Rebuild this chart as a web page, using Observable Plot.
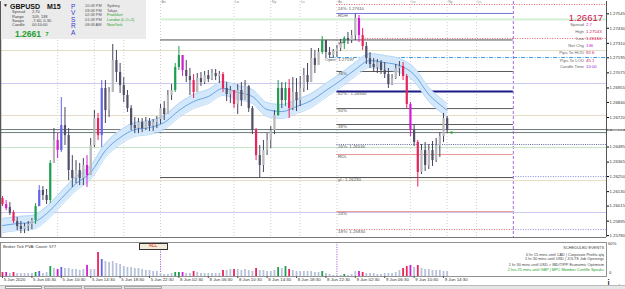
<!DOCTYPE html>
<html><head><meta charset="utf-8">
<script src="https://cdn.jsdelivr.net/npm/d3@7"></script>
<script src="https://cdn.jsdelivr.net/npm/@observablehq/plot@0.6"></script>
<style>
body{margin:0;background:#fff;}
#wrap{position:relative;width:625px;height:289px;overflow:hidden;font-family:"Liberation Sans",Arial,sans-serif;}
#main svg,#vol svg{display:block;font-family:"Liberation Sans",Arial,sans-serif;}
.t{position:absolute;white-space:nowrap;line-height:1;}
</style></head><body><div id="wrap"><div id="main"></div><div id="vol"></div></div>
<script>
const candleOpen = [
1.26075,1.26027,1.26003,1.25964,1.25892,1.25852,1.25828,1.25852,1.25868,1.25900,
1.26011,1.26139,1.26099,1.26059,1.26354,1.26537,1.26457,1.26656,1.26576,1.26298,
1.26234,1.26298,1.26234,1.26338,1.26258,1.26497,1.26712,1.26576,1.26951,1.26775,
1.26919,1.27173,1.27078,1.26974,1.26895,1.26791,1.26656,1.26632,1.26680,1.26632,
1.26688,1.26648,1.26680,1.26704,1.26791,1.26744,1.26895,1.26935,1.27118,1.27213,
1.27094,1.27046,1.27014,1.26919,1.27030,1.26998,1.27054,1.27022,1.27070,1.27046,
1.27062,1.26951,1.26903,1.26935,1.26823,1.26935,1.26855,1.26966,1.26791,1.26616,
1.26417,1.26338,1.26457,1.26537,1.26616,1.26736,1.26951,1.26855,1.26951,1.26791,
1.26919,1.26855,1.26951,1.27054,1.26998,1.27189,1.27134,1.27237,1.27333,1.27237,
1.27213,1.27245,1.27269,1.27309,1.27349,1.27333,1.27372,1.27508,1.27372,1.27285,
1.27189,1.27142,1.27118,1.27157,1.27094,1.27062,1.26982,1.27030,1.27110,1.27126,
1.27046,1.26823,1.26616,1.26521,1.26282,1.26457,1.26338,1.26457,1.26377,1.26497,
1.26568,1.26712];
const candleHigh = [
1.26091,1.26059,1.26043,1.25979,1.25924,1.25892,1.25876,1.25892,1.25916,1.26035,
1.26178,1.26170,1.26147,1.26377,1.26632,1.26592,1.26879,1.26799,1.26632,1.26417,
1.26377,1.26354,1.26393,1.26417,1.26553,1.26775,1.26752,1.27014,1.27014,1.26958,
1.27301,1.27253,1.27150,1.27038,1.26935,1.26815,1.26720,1.26712,1.26712,1.26720,
1.26712,1.26704,1.26728,1.26823,1.26847,1.26935,1.26982,1.27150,1.27285,1.27213,
1.27173,1.27110,1.27062,1.27070,1.27078,1.27086,1.27094,1.27102,1.27102,1.27086,
1.27078,1.26998,1.26966,1.26935,1.26982,1.26998,1.27014,1.26974,1.26807,1.26632,
1.26497,1.26537,1.26592,1.26648,1.26775,1.27014,1.26998,1.26998,1.27022,1.27038,
1.27030,1.27046,1.27110,1.27150,1.27269,1.27253,1.27269,1.27364,1.27309,1.27277,
1.27261,1.27293,1.27341,1.27364,1.27396,1.27412,1.27543,1.27532,1.27428,1.27317,
1.27237,1.27189,1.27181,1.27173,1.27157,1.27110,1.27062,1.27142,1.27165,1.27157,
1.27062,1.26839,1.26664,1.26537,1.26505,1.26521,1.26505,1.26529,1.26553,1.26600,
1.26752,1.26728];
const candleLow = [
1.26011,1.25979,1.25940,1.25876,1.25820,1.25796,1.25796,1.25812,1.25828,1.25868,
1.26011,1.26059,1.26027,1.26035,1.26354,1.26393,1.26441,1.26497,1.26218,1.26163,
1.26194,1.26178,1.26178,1.26163,1.26258,1.26481,1.26537,1.26481,1.26672,1.26720,
1.26919,1.26998,1.26911,1.26839,1.26760,1.26616,1.26592,1.26592,1.26600,1.26616,
1.26608,1.26608,1.26632,1.26664,1.26696,1.26744,1.26855,1.26919,1.27094,1.27046,
1.26998,1.26895,1.26871,1.26919,1.26966,1.26982,1.26998,1.27014,1.27014,1.26990,
1.26919,1.26847,1.26831,1.26791,1.26744,1.26807,1.26871,1.26760,1.26584,1.26377,
1.26242,1.26282,1.26417,1.26473,1.26584,1.26728,1.26791,1.26807,1.26712,1.26775,
1.26767,1.26807,1.26919,1.26935,1.26998,1.27070,1.27142,1.27221,1.27189,1.27189,
1.27189,1.27197,1.27245,1.27261,1.27301,1.27309,1.27333,1.27317,1.27253,1.27142,
1.27110,1.27078,1.27070,1.27062,1.27030,1.26951,1.26974,1.27022,1.27046,1.27014,
1.26791,1.26568,1.26489,1.26166,1.26266,1.26290,1.26306,1.26330,1.26362,1.26401,
1.26521,1.26592];
const candleClose = [
1.26027,1.25995,1.25956,1.25892,1.25852,1.25828,1.25852,1.25868,1.25900,1.26011,
1.26139,1.26099,1.26059,1.26354,1.26537,1.26457,1.26656,1.26576,1.26298,1.26234,
1.26298,1.26234,1.26338,1.26258,1.26497,1.26712,1.26576,1.26951,1.26775,1.26919,
1.27173,1.27078,1.26974,1.26895,1.26791,1.26656,1.26632,1.26680,1.26632,1.26688,
1.26648,1.26680,1.26704,1.26791,1.26744,1.26895,1.26935,1.27118,1.27213,1.27094,
1.27046,1.27014,1.26919,1.27030,1.26998,1.27054,1.27022,1.27070,1.27046,1.27062,
1.26951,1.26903,1.26935,1.26823,1.26935,1.26855,1.26966,1.26791,1.26616,1.26417,
1.26338,1.26457,1.26537,1.26616,1.26736,1.26951,1.26855,1.26951,1.26791,1.26919,
1.26855,1.26951,1.27054,1.26998,1.27189,1.27134,1.27237,1.27333,1.27237,1.27213,
1.27245,1.27269,1.27309,1.27349,1.27333,1.27372,1.27508,1.27372,1.27285,1.27189,
1.27142,1.27118,1.27157,1.27094,1.27062,1.26982,1.27030,1.27110,1.27126,1.27046,
1.26823,1.26616,1.26521,1.26282,1.26457,1.26338,1.26457,1.26377,1.26497,1.26568,
1.26712,1.26617];
// PVSRA class: n normal, g climax bull, r climax bear, b rising bull, m rising bear
const candleType = ("rmnrnnnnng"+"bnngnmbnnn"+"nnnmnnrbnn"+"nnnnnnnnnn"+"nnnnnnnggm"+
  "nnrnnnnnnn"+"rnnrnnnnnr"+"nnnnngngrn"+"nnnnnnngnn"+"nnngnnnmrn"+"nnnnnnnnnr"+
  "rmnrnnnnnn"+"nn").split("");
const tickVolume = [
100,100,75,100,75,75,75,75,75,100, 125,75,100,250,200,175,225,200,200,175,
175,150,175,275,175,175,600,425,375,350, 375,325,300,250,225,225,200,200,175,150,
150,125,125,75,50,50,75,100,100,100, 75,75,125,100,75,75,75,75,75,75,
150,150,175,175,175,150,175,150,125,200, 150,150,125,125,150,225,200,250,175,150,
125,125,125,125,125,100,100,125,75,50, 25,25,25,50,25,50,125,125,100,75,
75,75,50,50,75,75,75,100,150,200, 250,275,225,275,200,175,175,150,150,150,
125,125];
// moving-average channel centre (M15 index, price)
const maIndex = [0,8,16,24,32,40,48,56,64,72,80,88,96,104,112,120,128,136,144,152,160,168,176,184,192,200,208,216,224,232,240,242];
const maValue = [1.25860,1.25876,1.25884,1.25955,1.26075,1.26194,1.26282,1.26457,1.26560,1.26624,1.26640,1.26680,1.26775,1.26847,1.26887,1.26951,1.26919,1.26887,1.26783,1.26767,1.26807,1.26855,1.26935,1.27014,1.27102,1.27173,1.27157,1.27134,1.27062,1.26903,1.26799,1.26775];
const maHalfWidth = 0.00056;
// price axis
const priceTicks = [1.27545,1.27430,1.27310,1.27195,1.27075,1.26955,1.26840,1.26720,1.26485,1.26365,1.26250,1.26130,1.26015,1.25895,1.25780];
const currentPrice = 1.26617;
// time axis
const timeTickIndex = [0,16,32,48,64,80,96,112,128,144,160,176,192,208,224,240];
const timeTickLabel = ["5 Jun 2020","5 Jun 06:30","5 Jun 10:30","5 Jun 14:30","5 Jun 18:30","5 Jun 22:30","8 Jun 02:30","8 Jun 06:30","8 Jun 10:30","8 Jun 14:30","8 Jun 18:30","8 Jun 22:30","9 Jun 02:30","9 Jun 06:30","9 Jun 10:30","9 Jun 14:30"];
const sessionIndex = [30,50,66,86,126,146,162,182,222,242,258];
const sessionLabel = ["","","","As","Lo","Ny","Lc","As","Lo","Ny","Lc"];
const daySeparators = [86,182];
const nextDayIndex = 278;
// horizontal levels
const gridLevels = [1.27253,1.26736,1.26218];          // beige
const quarterLevels = [1.26990,1.25964];               // lavender
const greenLevels = [1.26481];
const bidLevels = [1.26624,1.26600];
const dailyLevelNames = ["yH","yL"];
const dailyLevelValues = [1.27337,1.26242];
const fibNames = ["RDH","76%","62%","50%","38%","RDL","24%"];
const fibValues = [1.27548,1.27086,1.26927,1.26791,1.26664,1.26425,1.25971];
const fibText = ["RDH","76%","62% : 1.26940","50%","38%","RDL","24%"];
const dottedNames = ["24%","26%","18%"];
const dottedValues = [1.27619,1.26505,1.25828];
const dottedText = ["24%: 1.27610","26%: 1.26530","18%: 1.25830"];
const openValue = 1.27197;
const upperRed = 1.27349;
const paleGreen = 1.27500;

// ---------- build
const cols = {g:"#1e9e50", r:"#e8245a", b:"#6464e6", m:"#d21ed2"};
const candles = candleOpen.map((o,k)=>{
  const c = candleClose[k], t = candleType[k], up = c >= o;
  return {i:2*k, o, h:candleHigh[k], l:candleLow[k], c,
    body: t==="n" ? (up ? "#b8b8b8" : "#50506a") : cols[t],
    wick: t==="n" ? "#45455f" : cols[t]};
});
const vols = tickVolume.map((v,k)=>({i:2*k, v, c: candleType[k]==="n" ? "#b7c2da" : cols[candleType[k]]}));
const ma = maIndex.map((i,j)=>({i, v:maValue[j]}));
const xDomain = [-1.0884, 328.7];
const yDomain = [1.25765, 1.27643];
const curve = "monotone-x";

const segs = [];
fibValues.forEach((p,j)=>segs.push({p, a:182, b:nextDayIndex,
  c: fibNames[j]==="RDH" ? "#7272d8" : fibNames[j]==="62%" ? "#1b1b86" : (fibNames[j]==="RDL"||fibNames[j]==="24%") ? "#e99494" : "#5b5b5b",
  w: fibNames[j]==="62%" ? 2 : 1}));
dailyLevelValues.forEach(p=>segs.push({p, a:86, b:nextDayIndex, c:"#4f4f4f", w:1}));

const labels = [];
fibValues.forEach((p,j)=>labels.push({x:182.6, p, t:fibText[j]}));
dottedValues.slice(1).forEach((p,j)=>labels.push({x:182.6, p, t:dottedText[j+1]}));
labels.push({x:182.6, p:dailyLevelValues[0], t:"yH"});
labels.push({x:182.6, p:dailyLevelValues[1], t:"yL: 1.26230"});
labels.push({x:175.5, p:openValue, t:"Open: 1.27197"});
const topLabel = [{x:182.6, p:dottedValues[0], t:dottedText[0]}];
const sessions = sessionIndex.map((i,j)=>({i, t:sessionLabel[j]})).filter(d=>d.t);

const main = Plot.plot({
  width:625, height:239, marginLeft:0, marginRight:19, marginTop:1, marginBottom:2,
  x:{domain:xDomain, axis:null},
  y:{domain:yDomain},
  color:{type:"identity"},
  style:{background:"#fff", overflow:"visible"},
  marks:[
    Plot.ruleX(sessionIndex,{stroke:"#c4c4c4", strokeWidth:0.8, strokeDasharray:"1,2"}),
    Plot.ruleX([nextDayIndex],{stroke:"#9c5ad8", strokeWidth:0.9, strokeDasharray:"3,2"}),
    Plot.ruleY(gridLevels,{stroke:"#e4dec6", strokeWidth:1}),
    Plot.ruleY(quarterLevels,{stroke:"#c9c9f1", strokeWidth:1}),
    Plot.ruleY(greenLevels,{stroke:"#c4e6c4", strokeWidth:1}),
    Plot.ruleY([paleGreen],{x1:86, x2:xDomain[1], stroke:"#d8f0d8", strokeWidth:2.2}),
    Plot.ruleY(bidLevels,{stroke:"#5c6b6b", strokeWidth:0.9}),
    Plot.ruleY(segs,{y:"p", x1:"a", x2:"b", stroke:"c", strokeWidth:"w"}),
    Plot.ruleY([dottedValues[0], upperRed],{x1:(d)=>d===upperRed?196:182, x2:xDomain[1], stroke:"#e05050", strokeWidth:0.9, strokeDasharray:"1,1.5"}),
    Plot.ruleY([dottedValues[2]],{x1:182, x2:nextDayIndex, stroke:"#e05050", strokeWidth:0.9, strokeDasharray:"1,1.5"}),
    Plot.ruleY([dottedValues[1]],{x1:182, x2:xDomain[1], stroke:"#4a5a90", strokeWidth:0.9, strokeDasharray:"1,1.2"}),
    Plot.ruleY([1.26250, dottedValues[2]],{x1:nextDayIndex, x2:xDomain[1], stroke:"#6a6ad8", strokeWidth:0.8, strokeDasharray:"1,1.5"}),
    Plot.ruleY([openValue],{x1:178, x2:xDomain[1], stroke:"#2a8ce0", strokeWidth:0.9, strokeDasharray:"4,1.5,1,1.5"}),
    Plot.areaY(ma,{x:"i", y1:d=>d.v-maHalfWidth, y2:d=>d.v+maHalfWidth, fill:"#d3e8fb", curve}),
    Plot.lineY(ma,{x:"i", y:d=>d.v+maHalfWidth, stroke:"#aed3f4", strokeWidth:0.8, curve}),
    Plot.lineY(ma,{x:"i", y:d=>d.v-maHalfWidth, stroke:"#aed3f4", strokeWidth:0.8, curve}),
    Plot.lineY(ma,{x:"i", y:"v", stroke:"#3d85d8", strokeWidth:0.7, curve}),
    Plot.ruleX(candles,{x:"i", y1:"l", y2:"h", stroke:"wick", strokeWidth:1}),
    Plot.ruleX(candles,{x:"i", y1:"o", y2:"c", stroke:"body", strokeWidth:2.2}),
    Plot.dot([{i:244.4, p:1.26600}],{x:"i", y:"p", r:1.3, fill:"#22b022"}),
    Plot.text(labels,{x:"x", y:"p", text:"t", dy:0.6, textAnchor:"start", lineAnchor:"top", fontSize:4.4, fill:"#555"}),
    Plot.text(topLabel,{x:"x", y:"p", text:"t", dy:2.4, textAnchor:"start", lineAnchor:"top", fontSize:4.2, fill:"#555"}),
    Plot.text(sessions,{x:"i", text:"t", frameAnchor:"top", dy:-0.6, dx:1, textAnchor:"start", lineAnchor:"top", fontSize:3.6, fill:"#888"}),
    Plot.ruleX([xDomain[1]],{stroke:"#555", strokeWidth:1}),
    Plot.ruleX([xDomain[0]],{stroke:"#555", strokeWidth:1.5}),
    Plot.ruleY([yDomain[0]],{stroke:"#777", strokeWidth:1}),
    Plot.axisY({anchor:"right", ticks:priceTicks, tickFormat:d=>d.toFixed(5), fontSize:4.3, tickSize:2, tickPadding:1, fill:"#333"}),
    Plot.rect([currentPrice],{x1:329.0, x2:340, y1:d=>d-0.000040, y2:d=>d+0.000040, fill:"#000"}),
    Plot.text([currentPrice],{x:329.5, y:d=>d, text:d=>d.toFixed(5), fill:"#fff", textAnchor:"start", fontSize:4.3})
  ]
});
document.getElementById("main").appendChild(main);

const vol = Plot.plot({
  width:625, height:50, marginLeft:0, marginRight:19, marginTop:3, marginBottom:13,
  x:{domain:xDomain},
  y:{domain:[0,850], axis:null},
  color:{type:"identity"},
  style:{background:"#fff", overflow:"visible"},
  marks:[
    Plot.ruleX(daySeparators,{stroke:"#a05ad8", strokeWidth:0.9, strokeDasharray:"1.2,1.2"}),
    Plot.ruleX(vols,{x:"i", y1:0, y2:"v", stroke:"c", strokeWidth:1.8}),
    Plot.frame({stroke:"#777", strokeWidth:0.8}),
    Plot.axisX({ticks:timeTickIndex, tickFormat:()=>"", tickSize:2, stroke:"#555"}),
    Plot.text(timeTickIndex,{x:d=>d, text:(d,j)=>timeTickLabel[j], frameAnchor:"bottom", dy:4.5, dx:1.2, textAnchor:"start", fontSize:4.4, fill:"#333"})
  ]
});
document.getElementById("vol").appendChild(vol);

// ---------- text overlays (terminal info panels)
const wrap = document.getElementById("wrap");
function box(x,y,w,h,css){const d=document.createElement("div");d.style.cssText=`position:absolute;left:${x}px;top:${y}px;width:${w}px;height:${h}px;${css||""}`;wrap.appendChild(d);return d;}
function t(x,y,s,size,color,extra){const d=document.createElement("div");d.className="t";d.textContent=s;
  d.style.cssText+=`left:${x}px;top:${y}px;font-size:${size}px;color:${color};${extra||""}`;wrap.appendChild(d);return d;}
function tr(xr,y,s,size,color,extra){return t(0,y,s,size,color,`left:auto;right:${625-xr}px;${extra||""}`);}

box(1,0,145,39,"background:#ebebeb;");
t(3,3,"▼",5,"#222");
t(10,2.5,"GBPUSD",7,"#111","font-weight:bold;");
t(47,2.5,"M15",7,"#111","font-weight:bold;");
const infoL=["Spread","Range","Swaps","Candle"], infoV=["2.70","109, 138","-7.60, 0.30","00:10:00"];
infoL.forEach((s,j)=>{t(12,10.2+j*4.3,s,4,"#444");t(32,10.2+j*4.3,infoV[j],4,"#444");});
t(15,29.5,"1.2661",8.5,"#27a02f","font-weight:bold;");
t(45.5,32,"7",5.5,"#27a02f","font-weight:bold;");
["P","V","S","R","A"].forEach((s,j)=>t(71,3.5+j*6.6,s,6.5,"#3a3ad0"));
const times=["10:08 PM","09:08 PM","02:08 PM","01:08 PM","08:08 AM"];
const cities=["Sydney","Tokyo","Frankfurt","London  (L,O+1)","NewYork"];
times.forEach((s,j)=>{t(85,4+j*4.7,s,3.9,"#555");t(107,4+j*4.7,cities[j],3.9,j<2?"#555":"#2aa02a");});

tr(603,12.5,"1.26617",9.5,"#d0104e");
const rl=["Spread","High","Low","Net Chg","Pips To HOD","Pips To LOD","Candle Time"];
const rv=["2.7","1.27543","1.26166","136","92.6","45.1","10:00"];
const rc=["#c020c0","#d0104e","#d0104e","#c020c0","#d0104e","#d0104e","#a020d0"];
const ry=[25,32.3,39,45.7,52.7,60.7,67.3];
rl.forEach((s,j)=>{tr(584,ry[j]-2.2,s,4.3,"#666");t(586,ry[j]-2.2,rv[j],4.3,rc[j]);});

t(3,244.5,"Broker Tick PVA:    Count: 577",4.2,"#333");
box(139,242.5,29,7,"background:#f3ecd8;border:0.8px solid #333;box-sizing:border-box;");
t(149,244,"ALL",4.6,"#d02020");
tr(604,246,"SCHEDULED EVENTS",3.9,"#444");
const ev=["0 hr 15 mins until CAD  |  Corporate Profits q/q","1 hr 30 mins until USD  |  JOLTS Job Openings","1 hr 30 mins until USD  >  IBD/TIPP Economic Optimism","2 hrs 25 mins until GBP  |  MPC Member Cunliffe Speaks"];
const evy=[253,257.3,262.7,268];
ev.forEach((s,j)=>tr(604,evy[j],s,3.9,j===3?"#20a020":"#444"));
t(608,242,"60%",4.2,"#333");
t(609,271,"0",4.2,"#333");
box(0,285,625,4,"background:#e6e6e6;border-top:1px solid #bbb;box-sizing:border-box;");
box(5,285.5,37,3.5,"background:#fff;border:0.6px solid #999;box-sizing:border-box;");
box(44,285.5,38,3.5,"border:0.6px solid #aaa;box-sizing:border-box;");
box(84,285.5,38,3.5,"border:0.6px solid #aaa;box-sizing:border-box;");
box(124,285.5,38,3.5,"border:0.6px solid #aaa;box-sizing:border-box;");
</script></body></html>
